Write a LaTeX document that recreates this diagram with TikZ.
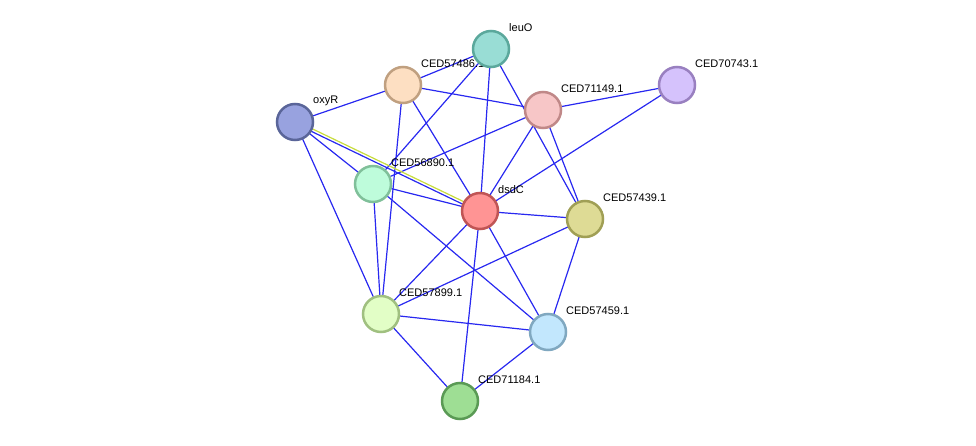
\documentclass[tikz,border=0pt]{standalone}
\usepackage{fontspec}
\setmainfont{Liberation Sans}
\begin{document}
\begin{tikzpicture}[x=1pt,y=-1pt,
  prot/.style={circle,minimum size=36pt,inner sep=0pt,line width=2.5pt},
  edge/.style={draw={rgb,255:red,40;green,40;blue,240},line width=1.2pt},
  lab/.style={anchor=west,inner sep=0pt,font=\fontsize{11}{13}\selectfont}]
\useasboundingbox (0,0) rectangle (976,446);
\coordinate (leuO) at (491,49);
\coordinate (c486) at (403,85);
\coordinate (c149) at (543,110);
\coordinate (c743) at (677,85);
\coordinate (oxyR) at (295,122);
\coordinate (c890) at (373,184);
\coordinate (dsdC) at (480,211);
\coordinate (c439) at (585,219);
\coordinate (c899) at (381,314);
\coordinate (c459) at (548,332);
\coordinate (c184) at (460,401);
\foreach \a/\b in {leuO/c486,leuO/c890,leuO/dsdC,leuO/c439,c486/c149,c486/oxyR,c486/dsdC,c486/c899,
  c149/c890,c149/c743,c149/dsdC,c149/c439,c743/dsdC,oxyR/c890,oxyR/c899,
  c890/dsdC,c890/c899,c890/c459,dsdC/c439,dsdC/c899,dsdC/c459,dsdC/c184,
  c439/c899,c439/c459,c899/c459,c899/c184,c459/c184}
  \draw[edge] (\a) -- (\b);
\draw[edge] ([yshift=-1.5pt]oxyR) -- ([yshift=-1.5pt]dsdC);
\draw[line width=1.2pt,draw={rgb,255:red,200;green,220;blue,60}] ([yshift=1.5pt]oxyR) -- ([yshift=1.5pt]dsdC);
\foreach \c/\t in {leuO/leuO,c486/CED57486.1,c149/CED71149.1,c743/CED70743.1,oxyR/oxyR,c890/CED56890.1,dsdC/dsdC,c439/CED57439.1,c899/CED57899.1,c459/CED57459.1,c184/CED71184.1}
  \node[lab] (l\c) at ([xshift=18pt,yshift=21pt]\c) {\t};
\node[prot,fill={rgb,255:red,253;green,223;blue,194},draw={rgb,255:red,192;green,160;blue,128}] (n486) at (c486) {};
\node[prot,fill={rgb,255:red,153;green,221;blue,213},draw={rgb,255:red,91;green,168;blue,156}] (nleuO) at (leuO) {};
\node[prot,fill={rgb,255:red,247;green,198;blue,199},draw={rgb,255:red,192;green,136;blue,136}] (n149) at (c149) {};
\node[prot,fill={rgb,255:red,213;green,194;blue,252},draw={rgb,255:red,153;green,128;blue,192}] (n743) at (c743) {};
\node[prot,fill={rgb,255:red,152;green,162;blue,223},draw={rgb,255:red,90;green,101;blue,153}] (noxyR) at (oxyR) {};
\node[prot,fill={rgb,255:red,190;green,252;blue,219},draw={rgb,255:red,128;green,192;blue,154}] (n890) at (c890) {};
\node[prot,fill={rgb,255:red,255;green,148;blue,148},draw={rgb,255:red,192;green,85;blue,85}] (ndsdC) at (dsdC) {};
\node[prot,fill={rgb,255:red,222;green,219;blue,149},draw={rgb,255:red,160;green,159;blue,85}] (n439) at (c439) {};
\node[prot,fill={rgb,255:red,226;green,254;blue,198},draw={rgb,255:red,160;green,192;blue,128}] (n899) at (c899) {};
\node[prot,fill={rgb,255:red,194;green,231;blue,253},draw={rgb,255:red,128;green,168;blue,192}] (n459) at (c459) {};
\node[prot,fill={rgb,255:red,158;green,222;blue,148},draw={rgb,255:red,90;green,154;blue,85}] (n184) at (c184) {};
\end{tikzpicture}
\end{document}
